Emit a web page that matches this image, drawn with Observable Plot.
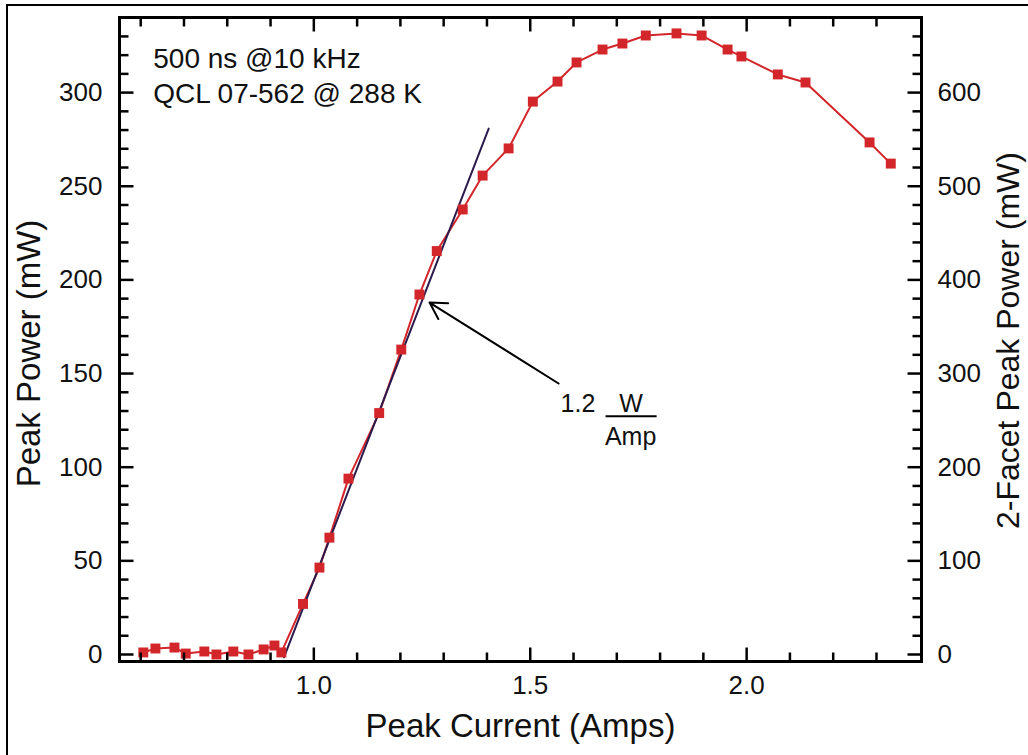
<!DOCTYPE html>
<html><head><meta charset="utf-8">
<script src="https://cdn.jsdelivr.net/npm/d3@7"></script>
<script src="https://cdn.jsdelivr.net/npm/@observablehq/plot@0.6"></script>
<style>
html,body{margin:0;padding:0;background:#fff;}
#wrap{position:relative;width:1028px;height:755px;overflow:hidden;}
#border{position:absolute;left:6px;top:4px;right:-10px;bottom:-10px;border-top:2.5px solid #000;border-left:2.5px solid #000;pointer-events:none;}
</style></head><body>
<div id="wrap"><div id="chart"></div><div id="border"></div></div>
<script>
// Measured data: peak current (A) vs single-facet peak power (mW)
const current = [0.606, 0.634, 0.678, 0.704, 0.747, 0.775, 0.814, 0.849, 0.884, 0.909, 0.925,
  0.975, 1.013, 1.036, 1.080, 1.151, 1.202, 1.244, 1.284, 1.344, 1.390, 1.450, 1.506, 1.563,
  1.607, 1.667, 1.713, 1.767, 1.838, 1.896, 1.956, 1.988, 2.072, 2.136, 2.284, 2.333];
const power = [1.1, 3.2, 3.7, 0.5, 1.6, 0.0, 1.6, 0.0, 2.7, 4.8, 1.1,
  27.0, 46.4, 62.4, 93.9, 128.9, 162.8, 192.2, 215.4, 237.6, 255.7, 270.2, 295.2, 305.9,
  316.1, 323.0, 326.2, 330.5, 331.6, 330.5, 323.0, 319.3, 309.7, 305.4, 273.4, 262.1];

// Linear slope-efficiency fit line (1.2 W/Amp for 2 facets)
const fitCurrent = [0.931, 1.404];
const fitPower = [-1.5, 280.8];

// Ticks
const xMajorTicks = [1.0, 1.5, 2.0];
const xMinorTicks = [0.6, 0.7, 0.8, 0.9, 1.1, 1.2, 1.3, 1.4, 1.6, 1.7, 1.8, 1.9, 2.1, 2.2, 2.3];
const yMajorTicks = [0, 50, 100, 150, 200, 250, 300];
const yMinorTicks = [10, 20, 30, 40, 60, 70, 80, 90, 110, 120, 130, 140, 160, 170, 180, 190,
  210, 220, 230, 240, 260, 270, 280, 290, 310, 320, 330];
const xTickLabels = ["1.0", "1.5", "2.0"];
const yTickLabels = ["0", "50", "100", "150", "200", "250", "300"];
const rightTickLabels = ["0", "100", "200", "300", "400", "500", "600"];

// Texts
const xTitle = "Peak Current (Amps)";
const yTitle = "Peak Power (mW)";
const y2Title = "2-Facet Peak Power (mW)";
const noteLines = ["500 ns @10 kHz", "QCL 07-562 @ 288 K"];
const noteX = [0.629, 0.629];
const noteY = [317.9, 299.0];
const slopeValue = "1.2";
const slopeNum = "W";
const slopeDen = "Amp";
const arrowFrom = [1.5655, 144.7];
const arrowTo = [1.2674, 187.9];
const slopeValuePos = [1.570, 133.5];
const slopeNumPos = [1.733, 133.5];
const slopeBar = [[1.674, 1.792], 127.2];
const slopeDenPos = [1.732, 115.9];

const red = "#d3262a";
const navy = "#2b1b4d";
const font = "'Liberation Sans', Arial, Helvetica, sans-serif";

const W = 1028, H = 755, mL = 119, mR = 107, mT = 17, mB = 94;
const innerW = W - mL - mR, innerH = H - mT - mB;
const majorLen = 14, minorLen = 9;
const xDomain = [0.551, 2.404], yDomain = [-3.74, 340.1];
// pixel-per-unit of the linear scales, to express tick lengths in pixels
const pxX = innerW / (xDomain[1] - xDomain[0]);
const pxY = innerH / (yDomain[1] - yDomain[0]);

const data = current.map((c, i) => ({current: c, power: power[i]}));
const fit = fitCurrent.map((c, i) => ({current: c, power: fitPower[i]}));

// inward tick segments on all four sides
const tickSegs = [];
for (const [ticks, len] of [[xMajorTicks, majorLen], [xMinorTicks, minorLen]]) {
  for (const t of ticks) {
    tickSegs.push({x1: t, x2: t, y1: yDomain[0], y2: yDomain[0] + len / pxY});
    tickSegs.push({x1: t, x2: t, y1: yDomain[1], y2: yDomain[1] - len / pxY});
  }
}
for (const [ticks, len] of [[yMajorTicks, majorLen], [yMinorTicks, minorLen]]) {
  for (const t of ticks) {
    tickSegs.push({y1: t, y2: t, x1: xDomain[0], x2: xDomain[0] + len / pxX});
    tickSegs.push({y1: t, y2: t, x1: xDomain[1], x2: xDomain[1] - len / pxX});
  }
}

const lbl = {fill: "#111", fontSize: 26, lineAnchor: "middle"};

const chart = Plot.plot({
  width: W, height: H,
  marginLeft: mL, marginRight: mR, marginTop: mT, marginBottom: mB,
  axis: null,
  style: {fontFamily: font, fontSize: "26px", color: "#111", background: "#fff"},
  x: {domain: xDomain},
  y: {domain: yDomain},
  marks: [
    Plot.line(data, {x: "current", y: "power", stroke: red, strokeWidth: 2}),
    Plot.line(fit, {x: "current", y: "power", stroke: navy, strokeWidth: 2}),
    Plot.dot(data, {x: "current", y: "power", symbol: "square", r: 5.6, fill: red, stroke: "none"}),
    // ticks and frame
    Plot.link(tickSegs, {x1: "x1", y1: "y1", x2: "x2", y2: "y2", stroke: "#000", strokeWidth: 2.5}),
    Plot.frame({strokeWidth: 3, stroke: "#000"}),
    // tick labels
    Plot.text(xTickLabels, {x: (d, i) => xMajorTicks[i], text: d => d, frameAnchor: "bottom", dy: 24, textAnchor: "middle", ...lbl}),
    Plot.text(yTickLabels, {y: (d, i) => yMajorTicks[i], text: d => d, frameAnchor: "left", dx: -17, textAnchor: "end", ...lbl}),
    Plot.text(rightTickLabels, {y: (d, i) => yMajorTicks[i], text: d => d, frameAnchor: "right", dx: 16, textAnchor: "start", ...lbl}),
    // axis titles
    Plot.text([xTitle], {text: d => d, frameAnchor: "bottom", dy: 65, fontSize: 33, textAnchor: "middle", lineAnchor: "middle", fill: "#111"}),
    Plot.text([yTitle], {text: d => d, frameAnchor: "left", dx: -90, dy: 14, rotate: -90, fontSize: 33, textAnchor: "middle", lineAnchor: "middle", fill: "#111"}),
    Plot.text([y2Title], {text: d => d, frameAnchor: "right", dx: 87, dy: 1, rotate: -90, fontSize: 32, textAnchor: "middle", lineAnchor: "middle", fill: "#111"}),
    // notes
    Plot.text(noteLines, {text: d => d, x: (d, i) => noteX[i], y: (d, i) => noteY[i], textAnchor: "start", lineAnchor: "middle", fontSize: 28, fill: "#111"}),
    // slope annotation
    Plot.arrow([0], {x1: () => arrowFrom[0], y1: () => arrowFrom[1], x2: () => arrowTo[0], y2: () => arrowTo[1], stroke: "#000", strokeWidth: 2, headLength: 14}),
    Plot.text([slopeValue], {text: d => d, x: () => slopeValuePos[0], y: () => slopeValuePos[1], textAnchor: "start", lineAnchor: "middle", fontSize: 25, fill: "#111"}),
    Plot.text([slopeNum], {text: d => d, x: () => slopeNumPos[0], y: () => slopeNumPos[1], textAnchor: "middle", lineAnchor: "middle", fontSize: 25, fill: "#111"}),
    Plot.link([0], {x1: () => slopeBar[0][0], x2: () => slopeBar[0][1], y1: () => slopeBar[1], y2: () => slopeBar[1], stroke: "#000", strokeWidth: 2}),
    Plot.text([slopeDen], {text: d => d, x: () => slopeDenPos[0], y: () => slopeDenPos[1], textAnchor: "middle", lineAnchor: "middle", fontSize: 25, fill: "#111"})
  ]
});
document.getElementById("chart").appendChild(chart);
</script>
</body></html>
